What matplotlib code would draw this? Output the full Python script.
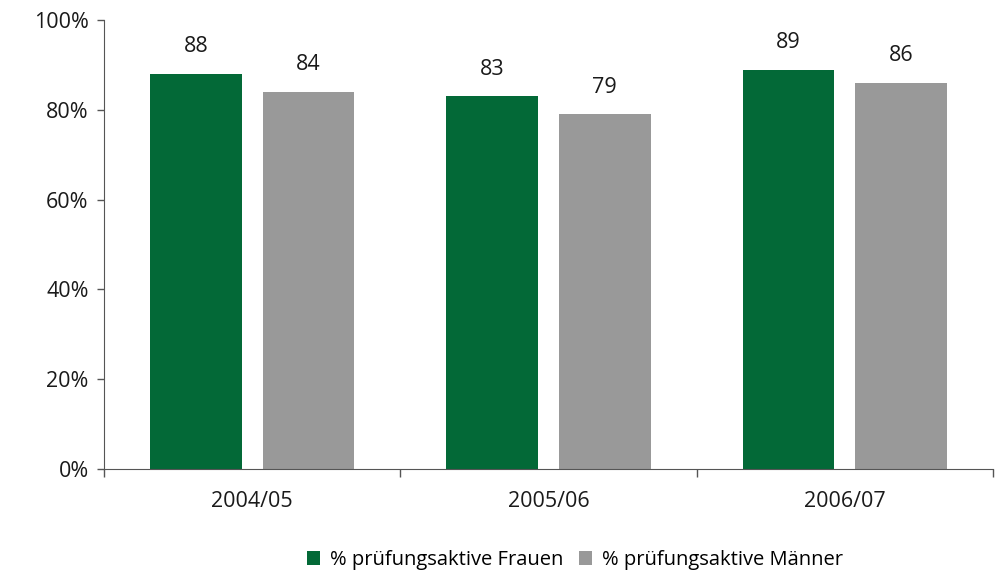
import matplotlib
matplotlib.use('Agg')
import matplotlib.pyplot as plt
from matplotlib.ticker import FixedLocator, PercentFormatter

semester = ["2004/05", "2005/06", "2006/07"]
frauen = [88, 83, 89]
maenner = [84, 79, 86]
labels = ["% prüfungsaktive Frauen", "% prüfungsaktive Männer"]

GREEN = '#036937'
GRAY = '#999999'

plt.rcParams['font.family'] = ['Open Sans', 'DejaVu Sans']

fig = plt.figure(figsize=(10.04, 5.75), dpi=100)
ax = fig.add_axes([0.1036, 0.1843, 0.8854, 0.7807])

x = range(len(semester))
w = 0.31
b1 = ax.bar([i - 0.19 for i in x], frauen, width=w, color=GREEN, label=labels[0])
b2 = ax.bar([i + 0.19 for i in x], maenner, width=w, color=GRAY, label=labels[1])

for bars, vals in ((b1, frauen), (b2, maenner)):
    for rect, v in zip(bars, vals):
        ax.annotate(f"{v}", (rect.get_x() + rect.get_width() / 2, rect.get_height()),
                    xytext=(0, 12), textcoords='offset points',
                    ha='center', va='bottom', fontsize=15.5, color='#1a1a1a')

ax.set_xlim(-0.5, len(semester) - 0.5)
ax.set_ylim(0, 100)
ax.set_yticks(range(0, 101, 20))
ax.yaxis.set_major_formatter(PercentFormatter(decimals=0))

ax.set_xticks(list(x))
ax.set_xticklabels(semester)
ax.xaxis.set_minor_locator(FixedLocator([i + 0.5 for i in range(-1, len(semester))]))
ax.tick_params(axis='x', which='major', length=0, pad=16, labelsize=15.5, colors='#1a1a1a')
ax.tick_params(axis='x', which='minor', length=6, width=1, color='#555555')
ax.tick_params(axis='y', length=5, width=1, color='#555555', labelsize=15.5, labelcolor='#1a1a1a', pad=6)

ax.spines['top'].set_visible(False)
ax.spines['right'].set_visible(False)
ax.spines['left'].set_color('#555555')
ax.spines['bottom'].set_color('#555555')

fig.legend(handles=[b1, b2], labels=labels, loc='center',
           bbox_to_anchor=(575 / 1004, 1 - 560 / 575), ncol=2, frameon=False,
           fontsize=14.5, handlelength=0.65, handleheight=0.65, handletextpad=0.5,
           columnspacing=0.8)

fig.savefig('out.png', dpi=100)
